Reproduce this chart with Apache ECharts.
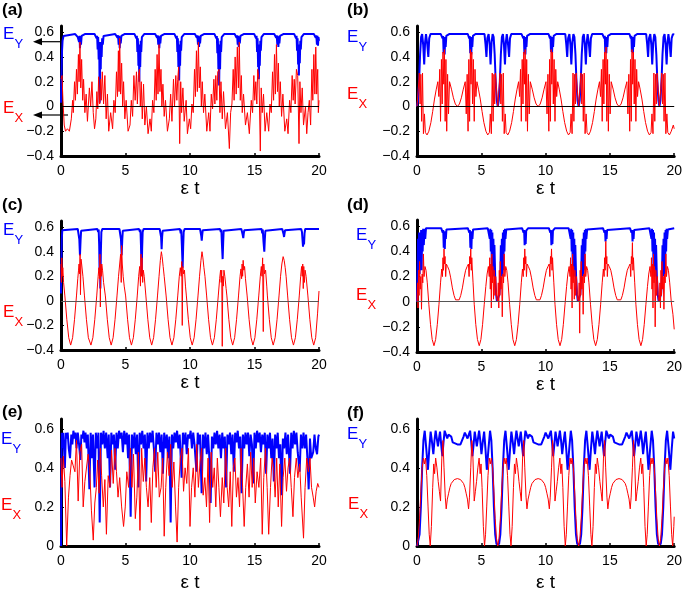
<!DOCTYPE html>
<html><head><meta charset="utf-8">
<script src="https://cdn.jsdelivr.net/npm/echarts@6/dist/echarts.min.js"></script>
<style>html,body{margin:0;padding:0;background:#fff}#c{width:685px;height:593px}</style>
</head><body><div id="c"></div>
<script>
// ---------- data ----------
const xTicks = [0, 5, 10, 15, 20];
const yTicksSigned = [-0.4, -0.2, 0, 0.2, 0.4, 0.6];
const yTicksPos = [0, 0.2, 0.4, 0.6];
const panelNames = ['(a)', '(b)', '(c)', '(d)', '(e)', '(f)'];
const xName = 'ε t';

const aBlue = [[0,0.03],[0.04,0.25],[0.08,0.45],[0.12,0.53],[0.2,0.57],[0.3,0.585],[1.1,0.585],[1.22,0.575],[1.3,0.56],[1.35,0.575],[1.4,0.52],[1.44,0.57],[1.47,0.47],[1.51,0.56],[1.55,0.5],[1.6,0.57],[1.66,0.56],[1.75,0.58],[1.85,0.585],
[2.6,0.585],[2.7,0.575],[2.76,0.55],[2.8,0.57],[2.84,0.46],[2.88,0.56],[2.92,0.38],[2.96,0.52],[3.0,0.03],[3.04,0.42],[3.08,0.3],[3.11,0.52],[3.15,0.4],[3.19,0.55],[3.24,0.5],[3.3,0.57],[3.4,0.585],
[4.2,0.585],[4.3,0.575],[4.38,0.555],[4.42,0.575],[4.47,0.5],[4.51,0.57],[4.55,0.47],[4.59,0.56],[4.63,0.51],[4.68,0.57],[4.74,0.56],[4.82,0.58],[4.92,0.585],
[5.7,0.585],[5.78,0.575],[5.84,0.55],[5.88,0.57],[5.92,0.44],[5.96,0.55],[6.0,0.33],[6.03,0.5],[6.07,0.2],[6.1,0.45],[6.14,0.32],[6.18,0.53],[6.22,0.44],[6.27,0.56],[6.33,0.57],[6.45,0.585],
[7.3,0.585],[7.38,0.575],[7.45,0.555],[7.49,0.575],[7.54,0.5],[7.58,0.57],[7.62,0.47],[7.66,0.56],[7.7,0.51],[7.75,0.57],[7.81,0.56],[7.9,0.58],[8.0,0.585],
[8.8,0.585],[8.88,0.575],[8.94,0.55],[8.98,0.57],[9.02,0.44],[9.06,0.55],[9.1,0.32],[9.13,0.5],[9.16,0.21],[9.19,0.46],[9.23,0.33],[9.27,0.53],[9.31,0.45],[9.36,0.56],[9.42,0.57],[9.55,0.585],
[10.38,0.585],[10.46,0.575],[10.53,0.555],[10.57,0.575],[10.62,0.5],[10.66,0.57],[10.7,0.48],[10.74,0.56],[10.78,0.51],[10.83,0.57],[10.89,0.56],[10.98,0.58],[11.08,0.585],
[11.9,0.585],[11.98,0.575],[12.04,0.55],[12.08,0.57],[12.12,0.43],[12.16,0.55],[12.2,0.3],[12.23,0.5],[12.26,0.17],[12.29,0.45],[12.33,0.3],[12.37,0.53],[12.41,0.44],[12.46,0.56],[12.52,0.57],[12.65,0.585],
[13.46,0.585],[13.54,0.575],[13.61,0.555],[13.65,0.575],[13.7,0.5],[13.74,0.57],[13.78,0.48],[13.82,0.56],[13.86,0.51],[13.91,0.57],[13.97,0.56],[14.06,0.58],[14.16,0.585],
[14.98,0.585],[15.06,0.575],[15.12,0.55],[15.16,0.57],[15.2,0.44],[15.24,0.55],[15.28,0.32],[15.31,0.5],[15.34,0.22],[15.37,0.46],[15.41,0.33],[15.45,0.53],[15.49,0.45],[15.54,0.56],[15.6,0.57],[15.72,0.585],
[16.53,0.585],[16.61,0.575],[16.68,0.555],[16.72,0.575],[16.77,0.5],[16.81,0.57],[16.85,0.48],[16.89,0.56],[16.93,0.51],[16.98,0.57],[17.04,0.56],[17.13,0.58],[17.23,0.585],
[18.08,0.585],[18.16,0.575],[18.22,0.55],[18.26,0.57],[18.3,0.45],[18.34,0.55],[18.38,0.34],[18.41,0.5],[18.44,0.25],[18.47,0.47],[18.51,0.35],[18.55,0.53],[18.59,0.46],[18.64,0.56],[18.7,0.57],[18.82,0.585],
[19.6,0.585],[19.68,0.575],[19.75,0.555],[19.79,0.575],[19.84,0.5],[19.88,0.57],[19.92,0.49],[19.96,0.56],[20,0.53]];

const aRed = [[0,0.22],[0.08,0.25],[0.15,0.05],[0.25,-0.15],[0.35,-0.2],[0.5,-0.18],[0.65,-0.2],[0.8,-0.1],[0.9,0.05],[0.95,-0.05],[1.05,0.2],[1.12,0.05],[1.2,0.3],[1.27,0.1],[1.35,0.42],[1.4,0.2],[1.47,0.52],[1.53,0.15],[1.6,0.38],[1.68,0.05],[1.75,0.22],[1.85,-0.05],[1.95,0.1],[2.05,-0.12],[2.2,0.15],[2.3,0.0],[2.4,0.2],[2.5,-0.05],[2.6,-0.18],[2.7,-0.1],[2.78,0.12],[2.85,-0.02],[2.92,0.24],[3.0,0.02],[3.07,0.22],[3.12,0.05],[3.2,0.28],[3.3,0.02],[3.4,0.25],[3.5,-0.1],[3.6,0.1],[3.7,-0.2],[3.85,-0.05],[4.0,-0.18],[4.1,0.05],[4.2,-0.05],[4.3,0.28],[4.38,0.08],[4.45,0.45],[4.5,0.12],[4.55,0.55],[4.62,0.1],[4.7,0.35],[4.78,0.0],[4.85,0.2],[4.95,-0.1],[5.05,0.05],[5.2,-0.2],[5.35,-0.15],[5.45,0.05],[5.55,-0.08],[5.65,0.25],[5.75,0.05],[5.85,0.28],[5.92,0.02],[6.0,0.25],[6.08,0.3],[6.15,0.0],[6.22,0.2],[6.3,-0.1],[6.4,0.18],[6.5,-0.15],[6.62,0.0],[6.75,-0.22],[6.9,-0.1],[7.0,-0.2],[7.1,0.05],[7.2,-0.05],[7.3,0.3],[7.38,0.05],[7.45,0.42],[7.52,0.1],[7.6,0.5],[7.67,0.12],[7.75,0.3],[7.82,0.0],[7.9,0.18],[8.0,-0.08],[8.1,0.05],[8.25,-0.2],[8.4,-0.1],[8.5,0.1],[8.6,-0.12],[8.72,0.22],[8.8,0.0],[8.9,0.25],[8.98,0.05],[9.05,0.22],[9.12,0.32],[9.2,-0.3],[9.28,0.2],[9.35,-0.05],[9.45,0.15],[9.55,-0.12],[9.7,0.05],[9.8,-0.22],[9.95,-0.1],[10.05,-0.18],[10.15,0.02],[10.25,-0.05],[10.35,0.3],[10.42,0.08],[10.5,0.45],[10.57,0.12],[10.65,0.52],[10.72,0.15],[10.8,0.32],[10.88,0.0],[10.95,0.2],[11.05,-0.05],[11.15,0.1],[11.3,-0.2],[11.45,-0.05],[11.55,-0.2],[11.65,0.1],[11.75,-0.02],[11.85,0.22],[11.93,0.02],[12.0,0.25],[12.08,0.05],[12.15,0.28],[12.25,0.3],[12.32,-0.05],[12.4,0.2],[12.5,-0.1],[12.6,0.12],[12.75,-0.18],[12.9,-0.05],[13.05,-0.34],[13.15,-0.05],[13.25,0.02],[13.35,0.3],[13.42,0.05],[13.5,0.4],[13.58,0.1],[13.67,0.48],[13.75,0.15],[13.82,0.52],[13.9,0.05],[13.98,0.25],[14.05,-0.05],[14.15,0.1],[14.3,-0.15],[14.45,-0.05],[14.6,-0.22],[14.75,0.05],[14.85,-0.05],[14.95,0.25],[15.02,0.05],[15.1,0.2],[15.18,0.02],[15.25,0.3],[15.35,0.22],[15.45,-0.36],[15.52,0.15],[15.6,-0.05],[15.7,0.1],[15.82,-0.2],[15.95,-0.05],[16.1,-0.2],[16.2,0.02],[16.3,-0.05],[16.4,0.28],[16.48,0.05],[16.55,0.42],[16.62,0.1],[16.7,0.5],[16.78,0.12],[16.85,0.35],[16.92,0.0],[17.0,0.2],[17.1,-0.08],[17.2,0.1],[17.35,-0.2],[17.5,-0.1],[17.6,-0.22],[17.72,0.05],[17.82,-0.05],[17.92,0.25],[18.0,0.05],[18.08,0.22],[18.15,0.02],[18.25,0.3],[18.35,0.25],[18.45,-0.3],[18.52,0.2],[18.6,-0.05],[18.7,0.15],[18.8,-0.15],[18.95,0.0],[19.05,-0.22],[19.15,-0.05],[19.25,0.05],[19.35,-0.15],[19.45,0.3],[19.52,0.05],[19.6,0.42],[19.68,0.1],[19.75,0.48],[19.82,0.1],[19.9,0.3],[19.95,-0.05],[20,0.05]];

const bBlue = [[0,0],[0.08,0.05],[0.16,0.2],[0.24,0.42],[0.32,0.56],[0.4,0.585],[0.48,0.5],[0.56,0.34],[0.63,0.52],[0.7,0.585],[0.8,0.5],[0.88,0.4],[0.95,0.55],[1.05,0.585],
[1.85,0.585],[1.93,0.575],[1.99,0.55],[2.03,0.57],[2.07,0.43],[2.11,0.55],[2.15,0.42],[2.19,0.56],[2.23,0.48],[2.28,0.57],[2.36,0.58],[2.5,0.585],
[3.95,0.585],[4.0,0.575],[4.06,0.55],[4.1,0.57],[4.14,0.43],[4.18,0.55],[4.22,0.42],[4.26,0.56],[4.3,0.48],[4.35,0.57],[4.43,0.58],[4.55,0.585],
[5.25,0.585],[5.33,0.5],[5.4,0.4],[5.47,0.55],[5.57,0.585],[5.65,0.5],[5.72,0.34],[5.8,0.52],[5.88,0.585],[5.96,0.56],[6.04,0.42],[6.12,0.2],[6.2,0.05],[6.28,0],[6.36,0.05],[6.44,0.2],[6.52,0.42],[6.6,0.56],[6.68,0.585],[6.76,0.5],[6.84,0.34],[6.91,0.52],[6.98,0.585],[7.08,0.5],[7.16,0.4],[7.23,0.55],[7.33,0.585],
[8.13,0.585],[8.21,0.575],[8.27,0.55],[8.31,0.57],[8.35,0.43],[8.39,0.55],[8.43,0.42],[8.47,0.56],[8.51,0.48],[8.56,0.57],[8.64,0.58],[8.78,0.585],
[10.23,0.585],[10.28,0.575],[10.34,0.55],[10.38,0.57],[10.42,0.44],[10.46,0.55],[10.5,0.43],[10.54,0.56],[10.58,0.48],[10.63,0.57],[10.71,0.58],[10.83,0.585],
[11.53,0.585],[11.61,0.5],[11.68,0.4],[11.75,0.55],[11.85,0.585],[11.93,0.5],[12.0,0.34],[12.08,0.52],[12.16,0.585],[12.24,0.56],[12.32,0.42],[12.4,0.2],[12.48,0.05],[12.57,0],[12.65,0.05],[12.73,0.2],[12.81,0.42],[12.89,0.56],[12.97,0.585],[13.05,0.5],[13.13,0.34],[13.2,0.52],[13.27,0.585],[13.37,0.5],[13.45,0.4],[13.52,0.55],[13.62,0.585],
[14.42,0.585],[14.5,0.575],[14.56,0.55],[14.6,0.57],[14.64,0.44],[14.68,0.55],[14.72,0.43],[14.76,0.56],[14.8,0.48],[14.85,0.57],[14.93,0.58],[15.07,0.585],
[16.52,0.585],[16.57,0.575],[16.63,0.55],[16.67,0.57],[16.71,0.44],[16.75,0.55],[16.79,0.43],[16.83,0.56],[16.87,0.48],[16.92,0.57],[17.0,0.58],[17.12,0.585],
[17.82,0.585],[17.9,0.5],[17.97,0.4],[18.04,0.55],[18.14,0.585],[18.22,0.5],[18.29,0.34],[18.37,0.52],[18.45,0.585],[18.53,0.56],[18.61,0.42],[18.69,0.2],[18.77,0.05],[18.85,0],[18.93,0.05],[19.01,0.2],[19.09,0.42],[19.17,0.56],[19.25,0.585],[19.33,0.5],[19.41,0.34],[19.48,0.52],[19.55,0.585],[19.65,0.5],[19.73,0.4],[19.8,0.55],[19.9,0.585],[20,0.58]];

const bRed = [[0,0],[0.1,0.14],[0.18,0.27],[0.24,0.02],[0.3,0.26],[0.36,-0.12],[0.43,0.27],[0.5,-0.22],[0.58,-0.06],[0.65,-0.21],[0.78,-0.23],[0.92,-0.2],[1.08,-0.13],[1.22,-0.04],[1.36,0.06],[1.5,0.14],[1.62,0.2],[1.7,0.08],[1.77,0.3],[1.83,-0.12],[1.9,0.38],[1.96,0.02],[2.02,0.44],[2.08,0.18],[2.13,0.46],[2.19,-0.12],[2.25,0.38],[2.31,-0.2],[2.38,0.26],[2.45,-0.06],[2.53,0.2],[2.68,0.14],[2.83,0.07],[2.98,0.02],[3.14,0],[3.3,0.02],[3.45,0.07],[3.6,0.14],[3.75,0.2],[3.83,-0.06],[3.9,0.26],[3.97,-0.2],[4.03,0.38],[4.09,-0.12],[4.15,0.46],[4.2,0.18],[4.26,0.44],[4.32,0.02],[4.38,0.38],[4.45,-0.12],[4.51,0.3],[4.58,0.08],[4.66,0.2],[4.78,0.14],[4.92,0.06],[5.06,-0.04],[5.2,-0.13],[5.36,-0.2],[5.5,-0.23],[5.63,-0.21],[5.7,-0.06],[5.78,-0.22],[5.85,0.27],[5.92,-0.12],[5.98,0.26],[6.04,0.02],[6.1,0.27],[6.18,0.14],[6.28,0],
[6.38,0.14],[6.46,0.27],[6.52,0.02],[6.58,0.26],[6.64,-0.12],[6.71,0.27],[6.78,-0.22],[6.86,-0.06],[6.93,-0.21],[7.06,-0.23],[7.2,-0.2],[7.36,-0.13],[7.5,-0.04],[7.64,0.06],[7.78,0.14],[7.9,0.2],[7.98,0.08],[8.05,0.3],[8.11,-0.12],[8.18,0.38],[8.24,0.02],[8.3,0.44],[8.36,0.18],[8.41,0.46],[8.47,-0.12],[8.53,0.38],[8.59,-0.2],[8.66,0.26],[8.73,-0.06],[8.81,0.2],[8.96,0.14],[9.11,0.07],[9.26,0.02],[9.42,0],[9.58,0.02],[9.73,0.07],[9.88,0.14],[10.03,0.2],[10.11,-0.06],[10.18,0.26],[10.25,-0.2],[10.31,0.38],[10.37,-0.12],[10.43,0.46],[10.48,0.18],[10.54,0.44],[10.6,0.02],[10.66,0.38],[10.73,-0.12],[10.79,0.3],[10.86,0.08],[10.94,0.2],[11.06,0.14],[11.2,0.06],[11.34,-0.04],[11.48,-0.13],[11.64,-0.2],[11.78,-0.23],[11.91,-0.21],[11.98,-0.06],[12.06,-0.22],[12.13,0.27],[12.2,-0.12],[12.26,0.26],[12.32,0.02],[12.38,0.27],[12.46,0.14],[12.57,0],
[12.67,0.14],[12.75,0.27],[12.81,0.02],[12.87,0.26],[12.93,-0.12],[13.0,0.27],[13.07,-0.22],[13.15,-0.06],[13.22,-0.21],[13.35,-0.23],[13.49,-0.2],[13.65,-0.13],[13.79,-0.04],[13.93,0.06],[14.07,0.14],[14.19,0.2],[14.27,0.08],[14.34,0.3],[14.4,-0.12],[14.47,0.38],[14.53,0.02],[14.59,0.44],[14.65,0.18],[14.7,0.48],[14.76,-0.12],[14.82,0.38],[14.88,-0.2],[14.95,0.26],[15.02,-0.06],[15.1,0.2],[15.25,0.14],[15.4,0.07],[15.55,0.02],[15.71,0],[15.87,0.02],[16.02,0.07],[16.17,0.14],[16.32,0.2],[16.4,-0.06],[16.47,0.26],[16.54,-0.2],[16.6,0.38],[16.66,-0.12],[16.72,0.46],[16.77,0.18],[16.83,0.44],[16.89,0.02],[16.95,0.38],[17.02,-0.12],[17.08,0.3],[17.15,0.08],[17.23,0.2],[17.35,0.14],[17.49,0.06],[17.63,-0.04],[17.77,-0.13],[17.93,-0.2],[18.07,-0.23],[18.2,-0.21],[18.27,-0.06],[18.35,-0.22],[18.42,0.27],[18.49,-0.12],[18.55,0.26],[18.61,0.02],[18.67,0.27],[18.75,0.14],[18.85,0],
[18.95,0.14],[19.03,0.27],[19.09,0.02],[19.15,0.26],[19.21,-0.12],[19.28,0.27],[19.35,-0.22],[19.43,-0.06],[19.5,-0.21],[19.63,-0.23],[19.77,-0.2],[19.93,-0.15],[20,-0.18]];

const cBlue = [[0,0.06],[0.03,0.3],[0.06,0.5],[0.1,0.575],[0.18,0.585],
[1.3,0.585],[1.38,0.57],[1.42,0.5],[1.47,0.37],[1.52,0.5],[1.56,0.57],[1.62,0.585],
[2.82,0.585],[2.88,0.56],[2.92,0.58],[2.96,0.45],[2.99,0.25],[3.02,0.45],[3.05,0.1],[3.09,0.4],[3.13,0.56],[3.2,0.585],
[4.53,0.585],[4.61,0.57],[4.65,0.5],[4.7,0.37],[4.75,0.5],[4.79,0.57],[4.85,0.585],
[6.05,0.585],[6.12,0.56],[6.16,0.58],[6.2,0.45],[6.25,0.21],[6.29,0.42],[6.33,0.56],[6.4,0.585],
[7.65,0.585],[7.72,0.57],[7.76,0.52],[7.8,0.42],[7.84,0.52],[7.88,0.57],[7.94,0.585],
[9.22,0.585],[9.28,0.55],[9.32,0.58],[9.37,0.45],[9.43,0.27],[9.47,0.44],[9.51,0.56],[9.58,0.585],
[10.78,0.585],[10.84,0.57],[10.87,0.53],[10.91,0.49],[10.95,0.54],[10.99,0.575],[11.05,0.585],
[12.33,0.585],[12.39,0.56],[12.43,0.58],[12.48,0.45],[12.53,0.34],[12.57,0.47],[12.61,0.57],[12.68,0.585],
[13.98,0.585],[14.04,0.57],[14.08,0.54],[14.13,0.51],[14.17,0.55],[14.21,0.575],[14.27,0.585],
[15.55,0.585],[15.6,0.55],[15.64,0.58],[15.7,0.48],[15.76,0.4],[15.8,0.5],[15.84,0.57],[15.9,0.585],
[17.15,0.585],[17.21,0.57],[17.25,0.545],[17.29,0.52],[17.33,0.55],[17.37,0.575],[17.43,0.585],
[18.62,0.585],[18.68,0.56],[18.72,0.5],[18.76,0.44],[18.8,0.5],[18.84,0.46],[18.88,0.55],[18.93,0.585],
[20,0.585]];

const cRed = [[0,0.3],[0.03,0.15],[0.06,0.35],[0.1,0.2],[0.14,0.27],[0.2,0.15],[0.3,0.04],[0.45,-0.15],[0.6,-0.3],[0.75,-0.36],[0.9,-0.3],[1.05,-0.15],[1.2,0.04],[1.3,0.18],[1.36,0.25],[1.4,0.3],[1.44,0.22],[1.48,0.38],[1.51,0.05],[1.55,0.34],[1.6,0.3],[1.7,0.2],[1.82,0.04],[1.97,-0.15],[2.12,-0.3],[2.32,-0.36],[2.47,-0.3],[2.62,-0.15],[2.77,0.04],[2.88,0.2],[2.94,0.27],[2.98,0.18],[3.02,0.38],[3.05,-0.05],[3.08,0.3],[3.12,0.2],[3.16,0.3],[3.22,0.25],[3.3,0.15],[3.44,0.04],[3.59,-0.15],[3.74,-0.3],[3.89,-0.36],[4.04,-0.3],[4.19,-0.15],[4.34,0.04],[4.46,0.2],[4.55,0.3],[4.62,0.38],[4.67,0.15],[4.7,0.45],[4.75,0.3],[4.82,0.2],[4.9,0.12],[5.01,0.04],[5.16,-0.15],[5.31,-0.3],[5.46,-0.36],[5.61,-0.3],[5.76,-0.15],[5.91,0.04],[6.02,0.2],[6.1,0.28],[6.16,0.12],[6.2,0.38],[6.24,0.2],[6.28,0.35],[6.33,0.15],[6.38,0.25],[6.45,0.2],[6.58,0.04],[6.73,-0.15],[6.88,-0.3],[7.03,-0.36],[7.18,-0.3],[7.33,-0.15],[7.48,0.04],[7.6,0.2],[7.7,0.33],[7.78,0.4],[7.84,0.36],[7.92,0.28],[8.0,0.2],[8.15,0.04],[8.3,-0.15],[8.45,-0.3],[8.6,-0.36],[8.75,-0.3],[8.9,-0.15],[9.05,0.04],[9.17,0.2],[9.25,0.27],[9.32,0.2],[9.36,0.32],[9.4,-0.2],[9.44,0.28],[9.5,0.22],[9.57,0.25],[9.65,0.12],[9.72,0.04],[9.87,-0.15],[10.02,-0.3],[10.17,-0.36],[10.32,-0.3],[10.47,-0.15],[10.62,0.04],[10.74,0.2],[10.85,0.33],[10.93,0.4],[11.0,0.35],[11.08,0.27],[11.16,0.2],[11.29,0.04],[11.44,-0.15],[11.59,-0.3],[11.74,-0.36],[11.89,-0.3],[12.04,-0.15],[12.19,0.04],[12.3,0.18],[12.37,0.25],[12.42,0.15],[12.46,0.25],[12.5,-0.37],[12.54,0.2],[12.58,0.12],[12.63,0.25],[12.7,0.2],[12.8,0.1],[12.86,0.04],[13.01,-0.15],[13.16,-0.3],[13.31,-0.36],[13.46,-0.3],[13.61,-0.15],[13.76,0.04],[13.88,0.2],[13.95,0.26],[14.0,0.18],[14.04,0.3],[14.08,0.2],[14.12,0.33],[14.17,0.25],[14.23,0.28],[14.3,0.18],[14.43,0.04],[14.58,-0.15],[14.73,-0.3],[14.88,-0.36],[15.03,-0.3],[15.18,-0.15],[15.33,0.04],[15.45,0.2],[15.53,0.28],[15.58,0.2],[15.63,0.35],[15.68,-0.25],[15.72,0.3],[15.78,0.22],[15.86,0.25],[15.95,0.12],[16.0,0.04],[16.15,-0.15],[16.3,-0.3],[16.45,-0.36],[16.6,-0.3],[16.75,-0.15],[16.9,0.04],[17.02,0.2],[17.12,0.3],[17.22,0.36],[17.3,0.33],[17.38,0.27],[17.45,0.2],[17.57,0.04],[17.72,-0.15],[17.87,-0.3],[18.02,-0.36],[18.17,-0.3],[18.32,-0.15],[18.47,0.04],[18.58,0.2],[18.65,0.28],[18.7,0.2],[18.74,0.3],[18.78,0.1],[18.82,0.28],[18.87,0.15],[18.92,0.25],[19.0,0.2],[19.14,0.04],[19.29,-0.15],[19.44,-0.3],[19.59,-0.36],[19.74,-0.3],[19.89,-0.1],[20,0.08]];

const dBlue = [[0,0],[0.04,0.25],[0.08,0.5],[0.12,0.3],[0.16,0.55],[0.2,0.22],[0.24,0.52],[0.28,0.35],[0.32,0.57],[0.36,0.25],[0.4,0.55],[0.44,0.4],[0.48,0.58],[0.53,0.45],[0.58,0.58],[0.64,0.5],[0.7,0.585],[0.8,0.585],
[1.88,0.585],[1.95,0.575],[2.0,0.55],[2.04,0.57],[2.08,0.43],[2.12,0.55],[2.16,0.42],[2.2,0.56],[2.24,0.5],[2.29,0.575],[2.4,0.585],
[3.95,0.585],[4.02,0.575],[4.07,0.55],[4.11,0.57],[4.15,0.43],[4.19,0.55],[4.23,0.42],[4.27,0.56],[4.31,0.5],[4.36,0.575],[4.47,0.585],
[5.5,0.585],[5.6,0.575],[5.66,0.5],[5.7,0.58],[5.74,0.4],[5.78,0.57],[5.82,0.25],[5.86,0.55],[5.9,0.2],[5.94,0.5],[5.98,0.3],[6.02,0.45],[6.08,0.2],[6.15,0.06],[6.22,0.0],[6.34,0.0],[6.41,0.06],[6.48,0.2],[6.52,0.45],[6.56,0.3],[6.6,0.5],[6.64,0.2],[6.68,0.55],[6.72,0.25],[6.76,0.57],[6.8,0.4],[6.84,0.58],[6.88,0.5],[6.94,0.575],[7.04,0.585],
[8.17,0.585],[8.24,0.575],[8.29,0.55],[8.33,0.57],[8.37,0.45],[8.41,0.55],[8.45,0.46],[8.49,0.565],[8.55,0.575],[8.65,0.585],
[10.25,0.585],[10.32,0.575],[10.37,0.55],[10.41,0.57],[10.45,0.45],[10.49,0.55],[10.53,0.46],[10.57,0.565],[10.63,0.575],[10.73,0.585],
[11.79,0.585],[11.89,0.575],[11.95,0.5],[11.99,0.58],[12.03,0.4],[12.07,0.57],[12.11,0.25],[12.15,0.55],[12.19,0.2],[12.23,0.5],[12.27,0.3],[12.31,0.45],[12.37,0.2],[12.44,0.06],[12.51,0.0],[12.63,0.0],[12.7,0.06],[12.77,0.2],[12.81,0.45],[12.85,0.3],[12.89,0.5],[12.93,0.2],[12.97,0.55],[13.01,0.25],[13.05,0.57],[13.09,0.4],[13.13,0.58],[13.17,0.5],[13.23,0.575],[13.33,0.585],
[14.46,0.585],[14.53,0.575],[14.58,0.55],[14.62,0.57],[14.66,0.48],[14.7,0.56],[14.74,0.5],[14.78,0.57],[14.85,0.585],
[16.56,0.585],[16.63,0.575],[16.68,0.55],[16.72,0.57],[16.76,0.48],[16.8,0.56],[16.84,0.5],[16.88,0.57],[16.95,0.585],
[18.07,0.585],[18.17,0.575],[18.23,0.5],[18.27,0.58],[18.31,0.4],[18.35,0.57],[18.39,0.25],[18.43,0.55],[18.47,0.2],[18.51,0.5],[18.55,0.3],[18.59,0.45],[18.65,0.2],[18.72,0.06],[18.79,0.0],[18.91,0.0],[18.98,0.06],[19.05,0.2],[19.09,0.45],[19.13,0.3],[19.17,0.5],[19.21,0.2],[19.25,0.55],[19.29,0.25],[19.33,0.57],[19.37,0.4],[19.41,0.58],[19.45,0.5],[19.51,0.575],[19.61,0.585],[20,0.585]];

const dRed = [[0,0],[0.04,0.15],[0.08,-0.05],[0.12,0.25],[0.16,0.05],[0.2,0.32],[0.25,0.1],[0.3,0.2],[0.35,-0.06],[0.4,0.22],[0.45,0.15],[0.5,0.38],[0.55,0.2],[0.62,0.28],[0.7,0.25],[0.8,0.15],[0.92,-0.02],[1.05,-0.18],[1.18,-0.3],[1.32,-0.35],[1.45,-0.3],[1.58,-0.18],[1.71,-0.02],[1.83,0.15],[1.92,0.26],[1.98,0.2],[2.02,0.35],[2.06,0.25],[2.1,0.42],[2.14,0.3],[2.18,0.36],[2.23,0.2],[2.28,0.3],[2.38,0.28],[2.5,0.25],[2.62,0.19],[2.75,0.11],[2.88,0.05],[3.0,0.015],[3.14,0],[3.28,0.015],[3.4,0.05],[3.53,0.11],[3.66,0.19],[3.78,0.25],[3.9,0.28],[4.0,0.3],[4.05,0.2],[4.1,0.36],[4.14,0.3],[4.18,0.42],[4.22,0.25],[4.26,0.35],[4.3,0.26],[4.36,0.15],[4.45,-0.02],[4.57,-0.18],[4.7,-0.3],[4.84,-0.35],[4.97,-0.3],[5.1,-0.18],[5.23,-0.02],[5.35,0.12],[5.45,0.22],[5.55,0.28],[5.62,0.2],[5.66,0.35],[5.7,0.1],[5.74,0.3],[5.78,-0.05],[5.82,0.38],[5.86,0.15],[5.9,0.28],[5.95,0.02],[6.0,0.25],[6.06,0.05],[6.12,0.2],[6.2,0.02],[6.28,0],
[6.32,0.15],[6.36,-0.05],[6.4,0.25],[6.44,0.05],[6.48,0.32],[6.53,0.1],[6.58,0.2],[6.63,-0.12],[6.68,0.22],[6.73,0.15],[6.78,0.38],[6.83,0.2],[6.9,0.28],[6.98,0.25],[7.08,0.15],[7.2,-0.02],[7.33,-0.18],[7.46,-0.3],[7.6,-0.35],[7.73,-0.3],[7.86,-0.18],[7.99,-0.02],[8.11,0.15],[8.2,0.26],[8.26,0.2],[8.3,0.35],[8.34,0.25],[8.38,0.42],[8.42,0.3],[8.46,0.36],[8.51,0.2],[8.56,0.3],[8.66,0.28],[8.78,0.25],[8.9,0.19],[9.03,0.11],[9.16,0.05],[9.28,0.015],[9.42,0],[9.56,0.015],[9.68,0.05],[9.81,0.11],[9.94,0.19],[10.06,0.25],[10.18,0.28],[10.28,0.3],[10.33,0.2],[10.38,0.36],[10.42,0.3],[10.46,0.42],[10.5,0.25],[10.54,0.35],[10.58,0.26],[10.64,0.15],[10.73,-0.02],[10.85,-0.18],[10.98,-0.3],[11.12,-0.35],[11.25,-0.3],[11.38,-0.18],[11.51,-0.02],[11.63,0.12],[11.73,0.22],[11.83,0.28],[11.9,0.2],[11.94,0.35],[11.98,0.1],[12.02,0.3],[12.06,-0.05],[12.1,0.38],[12.14,0.15],[12.18,0.28],[12.23,0.02],[12.28,0.25],[12.34,0.05],[12.4,0.2],[12.48,0.02],[12.57,0],
[12.61,0.15],[12.65,-0.25],[12.69,0.25],[12.73,0.05],[12.77,0.32],[12.82,0.1],[12.87,0.2],[12.92,-0.1],[12.97,0.22],[13.02,0.15],[13.07,0.38],[13.12,0.2],[13.19,0.28],[13.27,0.25],[13.37,0.15],[13.49,-0.02],[13.62,-0.18],[13.75,-0.3],[13.89,-0.35],[14.02,-0.3],[14.15,-0.18],[14.28,-0.02],[14.4,0.15],[14.49,0.26],[14.55,0.2],[14.59,0.35],[14.63,0.25],[14.68,0.48],[14.72,0.3],[14.76,0.36],[14.8,0.2],[14.85,0.3],[14.95,0.28],[15.07,0.25],[15.19,0.19],[15.32,0.11],[15.45,0.05],[15.57,0.015],[15.71,0],[15.85,0.015],[15.97,0.05],[16.1,0.11],[16.23,0.19],[16.35,0.25],[16.47,0.28],[16.57,0.3],[16.62,0.2],[16.67,0.36],[16.71,0.3],[16.75,0.47],[16.79,0.25],[16.83,0.35],[16.87,0.26],[16.93,0.15],[17.02,-0.02],[17.14,-0.18],[17.27,-0.3],[17.41,-0.35],[17.54,-0.3],[17.67,-0.18],[17.8,-0.02],[17.92,0.12],[18.02,0.22],[18.12,0.28],[18.19,0.2],[18.23,0.35],[18.27,0.1],[18.31,0.3],[18.35,-0.05],[18.39,0.38],[18.43,0.15],[18.47,0.28],[18.52,-0.2],[18.57,0.25],[18.63,0.05],[18.69,0.2],[18.77,0.02],[18.85,0],
[18.89,0.15],[18.93,-0.05],[18.97,0.25],[19.01,0.05],[19.05,0.32],[19.1,0.1],[19.15,0.2],[19.2,-0.06],[19.25,0.22],[19.3,0.15],[19.35,0.38],[19.4,0.2],[19.47,0.28],[19.55,0.25],[19.65,0.15],[19.77,0.0],[19.9,-0.1],[20,-0.22]];

const eBlue = [[0,0],[0.03,0.4],[0.06,0.58],[0.12,0.5],[0.18,0.58],[0.3,0.4],[0.38,0.58],[0.45,0.55],[0.52,0.58],[0.6,0.5],[0.7,0.45],[0.8,0.57],[0.88,0.52],[0.96,0.59],[1.05,0.55],[1.12,0.58],[1.2,0.5],[1.3,0.58],[1.4,0.52],[1.5,0.44],[1.58,0.57],[1.66,0.55],[1.74,0.59],[1.82,0.53],[1.9,0.58],[2.0,0.5],[2.08,0.57],[2.2,0.29],[2.3,0.58],[2.4,0.45],[2.48,0.57],[2.6,0.3],[2.7,0.58],[2.8,0.5],[2.9,0.58],[3.0,0.12],[3.1,0.58],[3.2,0.52],[3.3,0.59],[3.4,0.5],[3.5,0.58],[3.62,0.45],[3.7,0.57],[3.8,0.3],[3.9,0.58],[4.0,0.52],[4.1,0.57],[4.2,0.39],[4.3,0.58],[4.4,0.5],[4.5,0.59],[4.6,0.55],[4.7,0.58],[4.8,0.48],[4.9,0.59],[5.0,0.52],[5.1,0.58],[5.2,0.45],[5.28,0.57],[5.4,0.15],[5.5,0.57],[5.6,0.5],[5.7,0.58],[5.8,0.47],[5.9,0.57],[6.0,0.3],[6.1,0.58],[6.2,0.52],[6.3,0.59],[6.4,0.5],[6.5,0.57],[6.6,0.33],[6.7,0.58],[6.8,0.5],[6.9,0.58],[7.0,0.53],[7.1,0.59],[7.2,0.5],[7.3,0.38],[7.4,0.58],[7.5,0.52],[7.6,0.58],[7.7,0.48],[7.8,0.57],[7.9,0.37],[8.0,0.58],[8.1,0.5],[8.2,0.57],[8.3,0.45],[8.4,0.56],[8.5,0.12],[8.6,0.57],[8.7,0.5],[8.8,0.58],[8.9,0.53],[9.0,0.59],[9.1,0.5],[9.2,0.57],[9.35,0.35],[9.45,0.58],[9.55,0.52],[9.65,0.58],[9.75,0.47],[9.85,0.57],[9.95,0.55],[10.05,0.59],[10.15,0.5],[10.25,0.58],[10.35,0.52],[10.5,0.38],[10.6,0.58],[10.7,0.52],[10.78,0.57],[10.9,0.27],[11.0,0.57],[11.1,0.5],[11.2,0.58],[11.3,0.47],[11.4,0.57],[11.5,0.45],[11.6,0.22],[11.7,0.56],[11.8,0.5],[11.9,0.58],[12.0,0.52],[12.1,0.59],[12.2,0.5],[12.3,0.57],[12.4,0.45],[12.5,0.58],[12.6,0.5],[12.7,0.56],[12.8,0.3],[12.9,0.57],[13.0,0.52],[13.1,0.58],[13.2,0.47],[13.3,0.57],[13.4,0.38],[13.5,0.58],[13.6,0.53],[13.7,0.59],[13.8,0.5],[13.9,0.56],[14.0,0.27],[14.1,0.57],[14.2,0.5],[14.3,0.58],[14.4,0.52],[14.5,0.58],[14.6,0.46],[14.7,0.57],[14.8,0.52],[14.9,0.32],[15.0,0.58],[15.1,0.5],[15.2,0.59],[15.3,0.53],[15.4,0.58],[15.5,0.48],[15.6,0.57],[15.7,0.52],[15.8,0.58],[15.9,0.37],[16.0,0.57],[16.1,0.5],[16.2,0.58],[16.3,0.45],[16.4,0.55],[16.5,0.33],[16.6,0.57],[16.7,0.5],[16.8,0.58],[16.9,0.45],[17.0,0.52],[17.1,0.26],[17.2,0.55],[17.3,0.5],[17.4,0.58],[17.5,0.47],[17.6,0.57],[17.75,0.37],[17.85,0.58],[17.95,0.5],[18.05,0.59],[18.15,0.52],[18.25,0.58],[18.35,0.48],[18.5,0.38],[18.6,0.57],[18.7,0.5],[18.8,0.58],[18.9,0.5],[19.0,0.57],[19.1,0.45],[19.2,0.29],[19.3,0.55],[19.4,0.45],[19.55,0.48],[19.65,0.57],[19.75,0.5],[19.85,0.47],[19.95,0.56],[20,0.57]];

const eRed = [[0,0.45],[0.08,0.3],[0.18,0.46],[0.3,0.33],[0.44,0.0],[0.58,0.25],[0.7,0.36],[0.82,0.44],[0.95,0.41],[1.08,0.38],[1.2,0.54],[1.33,0.23],[1.46,0.48],[1.6,0.52],[1.72,0.2],[1.85,0.33],[1.98,0.34],[2.1,0.47],[2.22,0.4],[2.36,0.18],[2.5,0.03],[2.62,0.22],[2.74,0.3],[2.84,0.44],[2.95,0.27],[3.05,0.5],[3.15,0.36],[3.28,0.2],[3.4,0.34],[3.52,0.06],[3.66,0.36],[3.8,0.3],[3.92,0.49],[4.05,0.32],[4.18,0.5],[4.3,0.38],[4.42,0.25],[4.55,0.35],[4.7,0.2],[4.85,0.1],[4.98,0.2],[5.1,0.38],[5.24,0.3],[5.38,0.5],[5.5,0.3],[5.62,0.47],[5.76,0.14],[5.88,0.25],[6.0,0.48],[6.12,0.08],[6.25,0.5],[6.38,0.33],[6.5,0.45],[6.62,0.3],[6.75,0.2],[6.88,0.35],[7.0,0.12],[7.12,0.4],[7.25,0.5],[7.38,0.3],[7.5,0.48],[7.62,0.25],[7.76,0.3],[7.88,0.45],[8.0,0.05],[8.12,0.3],[8.25,0.48],[8.38,0.36],[8.5,0.52],[8.62,0.3],[8.75,0.43],[8.88,0.2],[9.0,0.02],[9.12,0.3],[9.25,0.45],[9.38,0.5],[9.5,0.28],[9.62,0.4],[9.75,0.32],[9.88,0.5],[10.0,0.1],[10.12,0.3],[10.25,0.4],[10.38,0.25],[10.52,0.52],[10.65,0.3],[10.78,0.43],[10.9,0.5],[11.02,0.26],[11.15,0.35],[11.28,0.2],[11.4,0.45],[11.52,0.12],[11.64,0.48],[11.76,0.3],[11.88,0.4],[12.0,0.2],[12.12,0.45],[12.24,0.3],[12.36,0.15],[12.5,0.35],[12.62,0.22],[12.76,0.5],[12.88,0.3],[13.0,0.2],[13.12,0.38],[13.24,0.1],[13.36,0.4],[13.48,0.45],[13.6,0.25],[13.72,0.35],[13.84,0.2],[13.96,0.5],[14.08,0.3],[14.2,0.1],[14.32,0.3],[14.45,0.42],[14.58,0.25],[14.7,0.48],[14.82,0.3],[14.94,0.45],[15.06,0.22],[15.2,0.38],[15.34,0.3],[15.48,0.45],[15.6,0.06],[15.72,0.35],[15.85,0.5],[15.98,0.3],[16.1,0.06],[16.24,0.3],[16.36,0.45],[16.48,0.4],[16.6,0.25],[16.72,0.45],[16.84,0.2],[16.96,0.42],[17.1,0.1],[17.22,0.35],[17.35,0.45],[17.48,0.28],[17.6,0.4],[17.72,0.45],[17.85,0.3],[17.98,0.15],[18.1,0.35],[18.24,0.45],[18.36,0.35],[18.5,0.42],[18.62,0.25],[18.8,0.04],[18.92,0.3],[19.05,0.45],[19.18,0.38],[19.3,0.45],[19.42,0.3],[19.55,0.25],[19.66,0.2],[19.78,0.28],[19.9,0.32],[20,0.3]];

const fBlue = [[0,0],[0.1,0.01],[0.2,0.06],[0.3,0.2],[0.4,0.4],[0.5,0.54],[0.6,0.59],[0.72,0.5],[0.85,0.39],[0.96,0.5],[1.06,0.585],[1.17,0.53],[1.27,0.47],[1.36,0.54],[1.45,0.59],[1.54,0.55],[1.63,0.51],[1.71,0.55],[1.79,0.585],[1.88,0.52],[1.97,0.46],[2.06,0.53],[2.15,0.59],[2.25,0.57],[2.35,0.55],[2.45,0.57],[2.56,0.58],[2.66,0.56],[2.78,0.53],[2.9,0.52],[3.14,0.52],[3.38,0.52],[3.5,0.53],[3.62,0.56],[3.72,0.58],[3.83,0.57],[3.93,0.55],[4.03,0.57],[4.13,0.59],[4.22,0.53],[4.31,0.46],[4.4,0.52],[4.49,0.585],[4.57,0.55],[4.65,0.51],[4.74,0.55],[4.83,0.59],[4.92,0.54],[5.01,0.47],[5.11,0.53],[5.22,0.585],[5.32,0.5],[5.43,0.39],[5.56,0.5],[5.68,0.59],[5.78,0.54],[5.88,0.4],[5.98,0.2],[6.08,0.06],[6.18,0.01],[6.28,0],
[6.38,0.01],[6.48,0.06],[6.58,0.2],[6.68,0.4],[6.78,0.54],[6.88,0.59],[7.0,0.5],[7.13,0.39],[7.24,0.5],[7.34,0.585],[7.45,0.53],[7.55,0.47],[7.64,0.54],[7.73,0.59],[7.82,0.55],[7.91,0.51],[7.99,0.55],[8.07,0.585],[8.16,0.52],[8.25,0.46],[8.34,0.53],[8.43,0.59],[8.53,0.57],[8.63,0.55],[8.73,0.57],[8.84,0.58],[8.94,0.56],[9.06,0.53],[9.18,0.52],[9.42,0.52],[9.66,0.52],[9.78,0.53],[9.9,0.56],[10.0,0.58],[10.11,0.57],[10.21,0.55],[10.31,0.57],[10.41,0.59],[10.5,0.53],[10.59,0.46],[10.68,0.52],[10.77,0.585],[10.85,0.55],[10.93,0.51],[11.02,0.55],[11.11,0.59],[11.2,0.54],[11.29,0.47],[11.39,0.53],[11.5,0.585],[11.6,0.5],[11.71,0.39],[11.84,0.5],[11.96,0.59],[12.06,0.54],[12.16,0.4],[12.26,0.2],[12.36,0.06],[12.46,0.01],[12.57,0],
[12.67,0.01],[12.77,0.06],[12.87,0.2],[12.97,0.4],[13.07,0.54],[13.17,0.59],[13.29,0.5],[13.42,0.39],[13.53,0.5],[13.63,0.585],[13.74,0.53],[13.84,0.47],[13.93,0.54],[14.02,0.59],[14.11,0.55],[14.2,0.51],[14.28,0.55],[14.36,0.585],[14.45,0.52],[14.54,0.46],[14.63,0.53],[14.72,0.59],[14.82,0.57],[14.92,0.55],[15.02,0.57],[15.13,0.58],[15.23,0.56],[15.35,0.53],[15.47,0.52],[15.71,0.52],[15.95,0.52],[16.07,0.53],[16.19,0.56],[16.29,0.58],[16.4,0.57],[16.5,0.55],[16.6,0.57],[16.7,0.59],[16.79,0.53],[16.88,0.46],[16.97,0.52],[17.06,0.585],[17.14,0.55],[17.22,0.51],[17.31,0.55],[17.4,0.59],[17.49,0.54],[17.58,0.47],[17.68,0.53],[17.79,0.585],[17.89,0.5],[18.0,0.39],[18.13,0.5],[18.25,0.59],[18.35,0.54],[18.45,0.4],[18.55,0.2],[18.65,0.06],[18.75,0.01],[18.85,0],
[18.95,0.01],[19.05,0.06],[19.15,0.2],[19.25,0.4],[19.35,0.54],[19.45,0.59],[19.57,0.5],[19.7,0.39],[19.81,0.5],[19.91,0.585],[20,0.55]];

const fRed = [[0,0],[0.1,0.04],[0.2,0.14],[0.3,0.28],[0.4,0.4],[0.5,0.45],[0.58,0.42],[0.66,0.45],[0.76,0.36],[0.86,0.2],[0.95,0.06],[1.03,0],[1.12,0.1],[1.22,0.3],[1.3,0.42],[1.37,0.37],[1.45,0.45],[1.55,0.4],[1.65,0.33],[1.74,0.28],[1.83,0.23],[1.93,0.45],[2.02,0.54],[2.1,0.4],[2.2,0.25],[2.27,0.19],[2.36,0.24],[2.46,0.27],[2.56,0.3],[2.66,0.32],[2.78,0.33],[2.9,0.34],[3.02,0.335],[3.14,0.345],[3.26,0.335],[3.38,0.34],[3.5,0.33],[3.62,0.32],[3.72,0.3],[3.82,0.27],[3.92,0.24],[4.01,0.19],[4.08,0.25],[4.18,0.4],[4.26,0.54],[4.35,0.45],[4.45,0.23],[4.54,0.28],[4.63,0.33],[4.73,0.4],[4.83,0.45],[4.91,0.37],[4.98,0.42],[5.06,0.3],[5.16,0.1],[5.25,0],[5.33,0.06],[5.42,0.2],[5.52,0.36],[5.62,0.45],[5.7,0.42],[5.78,0.45],[5.88,0.4],[5.98,0.28],[6.08,0.14],[6.18,0.04],[6.28,0],
[6.38,0.04],[6.48,0.14],[6.58,0.28],[6.68,0.4],[6.78,0.45],[6.86,0.42],[6.94,0.45],[7.04,0.36],[7.14,0.2],[7.23,0.06],[7.31,0],[7.4,0.1],[7.5,0.3],[7.58,0.42],[7.65,0.37],[7.73,0.45],[7.83,0.4],[7.93,0.33],[8.02,0.28],[8.11,0.23],[8.21,0.45],[8.3,0.54],[8.38,0.4],[8.48,0.25],[8.55,0.19],[8.64,0.24],[8.74,0.27],[8.84,0.3],[8.94,0.32],[9.06,0.33],[9.18,0.34],[9.3,0.335],[9.42,0.345],[9.54,0.335],[9.66,0.34],[9.78,0.33],[9.9,0.32],[10.0,0.3],[10.1,0.27],[10.2,0.24],[10.29,0.19],[10.36,0.25],[10.46,0.4],[10.54,0.54],[10.63,0.45],[10.73,0.23],[10.82,0.28],[10.91,0.33],[11.01,0.4],[11.11,0.45],[11.19,0.37],[11.26,0.42],[11.34,0.3],[11.44,0.1],[11.53,0],[11.61,0.06],[11.7,0.2],[11.8,0.36],[11.9,0.45],[11.98,0.42],[12.06,0.45],[12.16,0.4],[12.26,0.28],[12.36,0.14],[12.46,0.04],[12.57,0],
[12.67,0.04],[12.77,0.14],[12.87,0.28],[12.97,0.4],[13.07,0.45],[13.15,0.42],[13.23,0.45],[13.33,0.36],[13.43,0.2],[13.52,0.06],[13.6,0],[13.69,0.1],[13.79,0.3],[13.87,0.42],[13.94,0.37],[14.02,0.45],[14.12,0.4],[14.22,0.33],[14.31,0.28],[14.4,0.23],[14.5,0.45],[14.59,0.54],[14.67,0.4],[14.77,0.25],[14.84,0.19],[14.93,0.24],[15.03,0.27],[15.13,0.3],[15.23,0.32],[15.35,0.33],[15.47,0.34],[15.59,0.335],[15.71,0.345],[15.83,0.335],[15.95,0.34],[16.07,0.33],[16.19,0.32],[16.29,0.3],[16.39,0.27],[16.49,0.24],[16.58,0.19],[16.65,0.25],[16.75,0.4],[16.83,0.54],[16.92,0.45],[17.02,0.23],[17.11,0.28],[17.2,0.33],[17.3,0.4],[17.4,0.45],[17.48,0.37],[17.55,0.42],[17.63,0.3],[17.73,0.1],[17.82,0],[17.9,0.06],[17.99,0.2],[18.09,0.36],[18.19,0.45],[18.27,0.42],[18.35,0.45],[18.45,0.4],[18.55,0.28],[18.65,0.14],[18.75,0.04],[18.85,0],
[18.95,0.04],[19.05,0.14],[19.15,0.28],[19.25,0.4],[19.35,0.45],[19.43,0.42],[19.51,0.45],[19.61,0.36],[19.71,0.2],[19.8,0.06],[19.88,0],[19.97,0.1],[20,0.15]];

// ---------- layout / style ----------
const FONT = '"Liberation Sans", Arial, Helvetica, sans-serif';
const BLUE = '#0000ff', RED = '#ff0000';
const gridPos = [
  {left: 61, top: 26, width: 258, height: 130},
  {left: 417, top: 26, width: 258, height: 130},
  {left: 61, top: 221, width: 258, height: 129},
  {left: 417, top: 220, width: 258, height: 132},
  {left: 61, top: 419, width: 258, height: 132},
  {left: 417, top: 419, width: 258, height: 132}
];
const nameGaps = [20, 20, 20, 20, 27, 27];
const panels = [
  {blue: aBlue, red: aRed, yMin: -0.4, ticks: yTicksSigned, zero: '#000'},
  {blue: bBlue, red: bRed, yMin: -0.4, ticks: yTicksSigned, zero: '#000'},
  {blue: cBlue, red: cRed, yMin: -0.4, ticks: yTicksSigned, zero: '#555'},
  {blue: dBlue, red: dRed, yMin: -0.4, ticks: yTicksSigned, zero: '#555'},
  {blue: eBlue, red: eRed, yMin: 0, ticks: yTicksPos, zero: null},
  {blue: fBlue, red: fRed, yMin: 0, ticks: yTicksPos, zero: null}
];
// label anchors: [panel letter x, y], [E_Y x, y], [E_X x, y]
const labelPos = [
  {p: [2, 10], ey: [3, 34.5], ex: [3, 108.5]},
  {p: [347, 10], ey: [347, 37.5], ex: [347, 94.5]},
  {p: [2, 205], ey: [3, 230.5], ex: [3, 312.5]},
  {p: [347, 205], ey: [356, 235.5], ex: [356, 295.5]},
  {p: [2, 412.5], ey: [1, 439.5], ex: [1, 505.5]},
  {p: [347, 413], ey: [347, 434.5], ex: [348, 504.5]}
];

const fmt = v => {
  const r = Math.round(v * 10) / 10;
  if (Math.abs(r * 5 - Math.round(r * 5)) > 1e-6 || Math.abs(v - r) > 1e-6) return '';
  return r < 0 ? '\u2212' + String(Math.abs(r)) : String(r);
};

const graphic = [];
labelPos.forEach((L, i) => {
  graphic.push({type: 'text', x: L.p[0], y: L.p[1], silent: true,
    style: {text: panelNames[i], fill: '#000', font: 'bold 17px ' + FONT, textAlign: 'left', textVerticalAlign: 'middle', align: 'left', verticalAlign: 'middle'}});
  [['ey', 'Y', BLUE], ['ex', 'X', RED]].forEach(([k, sub, col]) => {
    const [x, y] = L[k];
    graphic.push({type: 'text', x: x, y: y, silent: true,
      style: {text: 'E', fill: col, font: '17px ' + FONT, textAlign: 'left', textVerticalAlign: 'middle', align: 'left', verticalAlign: 'middle'}});
    graphic.push({type: 'text', x: x + 11.5, y: y + 10, silent: true,
      style: {text: sub, fill: col, font: '13px ' + FONT, textAlign: 'left', textVerticalAlign: 'middle', align: 'left', verticalAlign: 'middle'}});
  });
});
// arrows in panel (a)
[[41.7, 63], [115, 68]].forEach(([y, xEnd]) => {
  graphic.push({type: 'line', silent: true, shape: {x1: 40, y1: y, x2: xEnd, y2: y}, style: {stroke: '#000', lineWidth: 1.2}});
  graphic.push({type: 'polygon', silent: true, shape: {points: [[33, y], [42, y - 3.6], [42, y + 3.6]]}, style: {fill: '#000'}});
});

const option = {
  animation: false,
  backgroundColor: '#fff',
  grid: gridPos.map(g => Object.assign({containLabel: false}, g)),
  xAxis: gridPos.map((g, i) => ({
    gridIndex: i, type: 'value', min: 0, max: 20, interval: 5,
    axisLine: {onZero: false, lineStyle: {color: '#000', width: 3}},
    axisTick: {inside: true, length: 3, lineStyle: {color: '#000', width: 1.5}, customValues: xTicks},
    axisLabel: {color: '#000', fontSize: 14, fontFamily: FONT, margin: 8, customValues: xTicks},
    splitLine: {show: false},
    name: xName, nameLocation: 'middle', nameGap: nameGaps[i],
    nameTextStyle: {color: '#000', fontSize: 19, fontFamily: FONT}
  })),
  yAxis: panels.map((p, i) => ({
    gridIndex: i, type: 'value', min: p.yMin, max: 0.65, interval: 0.2,
    axisLine: {show: true, onZero: false, lineStyle: {color: '#000', width: 3}},
    axisTick: {show: true, inside: true, length: 3, lineStyle: {color: '#000', width: 1}, customValues: p.ticks},
    axisLabel: {color: '#000', fontSize: 14, fontFamily: FONT, margin: 7, formatter: fmt, customValues: p.ticks},
    splitLine: {show: false}
  })),
  graphic: graphic,
  series: []
};
panels.forEach((p, i) => {
  option.series.push({
    type: 'line', xAxisIndex: i, yAxisIndex: i, data: p.blue, symbol: 'none', showSymbol: false,
    lineStyle: {color: BLUE, width: 2}, itemStyle: {color: BLUE}, silent: true, z: 2
  });
  const red = {
    type: 'line', xAxisIndex: i, yAxisIndex: i, data: p.red, symbol: 'none', showSymbol: false,
    lineStyle: {color: RED, width: 1}, itemStyle: {color: RED}, silent: true, z: 3
  };
  if (p.zero) {
    red.markLine = {silent: true, symbol: ['none', 'none'], label: {show: false}, animation: false,
      lineStyle: {color: p.zero, width: 1, type: 'solid'}, emphasis: {disabled: true},
      data: [{yAxis: 0}]};
  }
  option.series.push(red);
});

const chart = echarts.init(document.getElementById('c'), null, {renderer: 'canvas'});
chart.setOption(option);
</script>
</body></html>
